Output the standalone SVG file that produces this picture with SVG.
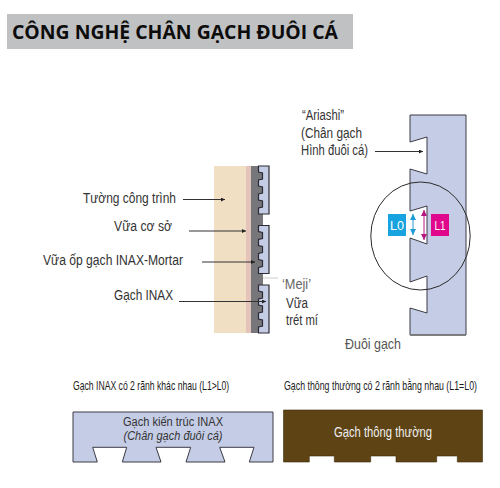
<svg xmlns="http://www.w3.org/2000/svg" width="500" height="488" viewBox="0 0 500 488">
<style>
.t{font-family:"Liberation Sans",Arial,sans-serif;font-size:14px;fill:#333}
.i{font-family:"Liberation Sans",Arial,sans-serif;font-size:12px;fill:#333}
.c{font-family:"Liberation Sans",Arial,sans-serif;font-size:12.500px;fill:#1a1a1a}
.l{stroke:#333;stroke-width:1;fill:none;marker-end:url(#a)}
.tile{fill:#c5cde6;stroke:#2a2a33;stroke-width:1.2}
.b{fill:#c5cde6;stroke:#3a3a45;stroke-width:1}
.bx{font-family:"Liberation Sans",Arial,sans-serif;font-size:13px;fill:#fff}
</style>
<defs>
<marker id="a" markerWidth="5" markerHeight="5" refX="4" refY="2" orient="auto" markerUnits="userSpaceOnUse"><path d="M0 0L4 2L0 4Z" fill="#222"/></marker>
<marker id="bb" markerWidth="7" markerHeight="6" refX="6" refY="3" orient="auto-start-reverse" markerUnits="userSpaceOnUse"><path d="M0 0L6 3L0 6Z" fill="#1e9ad6"/></marker>
<marker id="mm" markerWidth="7" markerHeight="6" refX="6" refY="3" orient="auto-start-reverse" markerUnits="userSpaceOnUse"><path d="M0 0L6 3L0 6Z" fill="#b5177f"/></marker>
<path id="tp" d="M0 0H10.500V48H0V42L4 41V35L0 34V28L4 27V21L0 20V14L4 13V7L0 6Z"/>
</defs>
<rect width="500" height="488" fill="#fff"/>
<g id="title">
<rect x="7" y="14" width="346" height="35" fill="#c0c1c3"/>
<text x="12" y="38.500" font-family="'Open Sans',sans-serif" font-weight="700" font-size="20" fill="#0c0c0c" textLength="326" lengthAdjust="spacingAndGlyphs">CÔNG NGHỆ CHÂN GẠCH ĐUÔI CÁ</text>
</g>
<g id="wall-section">
<rect x="214" y="166" width="33" height="167" fill="#f0dfc3"/>
<rect x="246" y="166" width="5" height="167" fill="#e4c3ba"/>
<rect x="251" y="166" width="12" height="167" fill="#77777b"/>
<use href="#tp" x="258.500" y="166" class="tile"/>
<use href="#tp" x="258.500" y="225.500" class="tile"/>
<use href="#tp" x="258.500" y="285" class="tile"/>
</g>
<g id="left-labels">
<text class="t" x="83" y="203" textLength="93" lengthAdjust="spacingAndGlyphs">Tường công trình</text>
<text class="t" x="114" y="231" textLength="58" lengthAdjust="spacingAndGlyphs">Vữa cơ sở</text>
<text class="t" x="43" y="265" textLength="140" lengthAdjust="spacingAndGlyphs">Vữa ốp gạch INAX-Mortar</text>
<text class="t" x="114" y="300" textLength="59" lengthAdjust="spacingAndGlyphs">Gạch INAX</text>
<text class="t" x="282" y="289" textLength="29" lengthAdjust="spacingAndGlyphs" style="fill:#666">‘Meji’</text>
<text class="t" x="286" y="308" textLength="22" lengthAdjust="spacingAndGlyphs">Vữa</text>
<text class="t" x="286" y="325" textLength="32" lengthAdjust="spacingAndGlyphs">trét mí</text>
</g>
<g id="right-tile">
<path class="b" d="M410 115H466V335H410V308L427 313V276L410 282V238L427 244V206L410 211V169L427 174V137L410 142Z"/>
<path d="M410 335H466" stroke="#777" stroke-width="1.500"/>
<ellipse cx="420.500" cy="236" rx="49.700" ry="54" fill="none" stroke="#2a2a2a" stroke-width="1"/>
</g>
<g id="l0">
<rect x="388" y="214" width="18" height="22" fill="#17a3e0"/>
<text class="bx" x="397" y="230" text-anchor="middle" textLength="14" lengthAdjust="spacingAndGlyphs">L0</text>
<path d="M413 214V235" stroke="#1e9ad6" stroke-width="1" marker-start="url(#bb)" marker-end="url(#bb)"/>
</g>
<g id="l1">
<rect x="431" y="214" width="18" height="22" fill="#e0078c"/>
<text class="bx" x="440" y="230" text-anchor="middle" textLength="11" lengthAdjust="spacingAndGlyphs">L1</text>
<path d="M424 210V240" stroke="#b5177f" stroke-width="1" marker-start="url(#mm)" marker-end="url(#mm)"/>
</g>
<g id="right-labels">
<text class="t" x="302" y="120" textLength="42" lengthAdjust="spacingAndGlyphs">“Ariashi”</text>
<text class="t" x="301" y="138" textLength="61" lengthAdjust="spacingAndGlyphs">(Chân gạch</text>
<text class="t" x="301" y="155" textLength="67" lengthAdjust="spacingAndGlyphs">Hình đuôi cá)</text>
<text class="t" x="345" y="349" textLength="56" lengthAdjust="spacingAndGlyphs" style="fill:#555">Đuôi gạch</text>
</g>
<g id="inax-tile">
<text class="c" transform="translate(73 390) scale(.72 1)" textLength="217" lengthAdjust="spacingAndGlyphs">Gạch INAX có 2 rãnh khác nhau (L1&gt;L0)</text>
<path class="b" d="M249.300 462L254 447.300H219.700L225 462H186L190.700 447.300H156L161 462H122.300L126.700 447.300H92.700L97.300 462H73V412H273V462Z"/>
<text class="i" x="173" y="425.500" text-anchor="middle" textLength="100" lengthAdjust="spacingAndGlyphs">Gạch kiến trúc INAX</text>
<text class="i" x="173" y="439.500" text-anchor="middle" font-style="italic" textLength="99" lengthAdjust="spacingAndGlyphs">(Chân gạch đuôi cá)</text>
</g>
<g id="normal-tile">
<text class="c" transform="translate(284 390) scale(.72 1)" textLength="268" lengthAdjust="spacingAndGlyphs">Gạch thông thường có 2 rãnh bằng nhau (L1=L0)</text>
<path fill="#5e4414" stroke="#3e2d0d" stroke-width="0.600" d="M283.500 410H482.500V462H457.300V456H436.700V462H396V456H370.700V462H334.300V456H309.300V462H283.500Z"/>
<text class="t" x="383" y="437" text-anchor="middle" textLength="98" lengthAdjust="spacingAndGlyphs" style="fill:#eee">Gạch thông thường</text>
</g>
<g id="connectors">
<path class="l" d="M183 199.500H225"/>
<path class="l" d="M189 231H246"/>
<path class="l" d="M202 262H255"/>
<path class="l" d="M179 301.500H266"/>
<path class="l" d="M375 151.500H423"/>
<path d="M263 278H278" stroke="#ccc" stroke-width="1"/>
</g>
</svg>
